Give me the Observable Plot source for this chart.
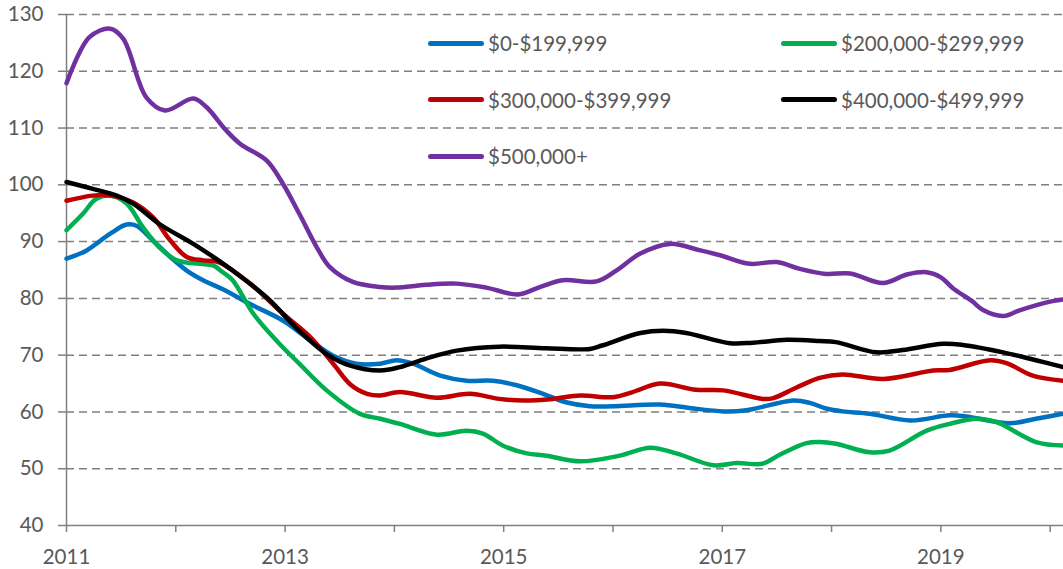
<!DOCTYPE html>
<html><head><meta charset="utf-8">
<script src="https://cdn.jsdelivr.net/npm/d3@7"></script>
<script src="https://cdn.jsdelivr.net/npm/@observablehq/plot@0.6"></script>
<style>
html,body{margin:0;padding:0;background:#fff;}
#wrap{position:relative;width:1063px;height:569px;overflow:hidden;font-family:Lato,sans-serif;}
#legend{position:absolute;left:428px;top:15px;display:grid;grid-template-columns:353px auto;grid-auto-rows:56.5px;}
.item{display:flex;align-items:center;font-size:20.5px;color:#595959;white-space:nowrap;}
.sw{width:56px;height:5px;border-radius:3px;margin-right:4px;}
</style></head><body><div id="wrap"><div id="legend"></div></div>
<script>
const seriesNames = ["$0-$199,999","$200,000-$299,999","$300,000-$399,999","$400,000-$499,999","$500,000+"];
const colors = ["#0070C0","#00B050","#C00000","#000000","#7030A0"];
const yTicks = [40,50,60,70,80,90,100,110,120,130];
const xTicks = [2011,2012,2013,2014,2015,2016,2017,2018,2019,2020];
const xLabels = [2011,2013,2015,2017,2019];

const blue = [[2011.00,87.0],[2011.18,88.4],[2011.40,91.4],[2011.55,93.0],[2011.64,92.8],[2011.79,90.2],[2011.95,87.3],[2012.10,84.9],[2012.25,83.2],[2012.43,81.6],[2012.68,79.0],[2012.98,76.1],[2013.23,72.6],[2013.44,69.9],[2013.65,68.5],[2013.87,68.5],[2014.02,69.1],[2014.17,68.5],[2014.42,66.4],[2014.66,65.5],[2014.90,65.5],[2015.12,64.7],[2015.36,63.2],[2015.57,61.7],[2015.79,61.0],[2016.00,61.0],[2016.43,61.3],[2016.70,60.7],[2017.01,60.1],[2017.22,60.3],[2017.65,62.0],[2017.80,61.6],[2017.95,60.6],[2018.10,60.1],[2018.35,59.7],[2018.72,58.5],[2019.08,59.4],[2019.23,59.2],[2019.63,58.0],[2019.87,58.8],[2020.12,59.7]];
const green = [[2011.00,92.0],[2011.15,94.9],[2011.27,97.5],[2011.40,98.1],[2011.55,96.7],[2011.70,92.5],[2011.85,89.0],[2012.01,86.7],[2012.22,86.1],[2012.34,85.8],[2012.43,84.6],[2012.52,83.2],[2012.71,77.3],[2012.92,72.6],[2013.13,68.5],[2013.38,63.8],[2013.68,59.7],[2013.87,58.8],[2014.05,57.9],[2014.39,56.0],[2014.66,56.7],[2014.81,56.2],[2014.99,54.1],[2015.21,52.7],[2015.39,52.3],[2015.70,51.3],[2016.06,52.3],[2016.34,53.7],[2016.58,52.7],[2016.92,50.6],[2017.13,51.0],[2017.37,50.9],[2017.53,52.5],[2017.77,54.5],[2017.89,54.7],[2018.04,54.4],[2018.35,52.9],[2018.53,53.2],[2018.87,56.7],[2019.08,57.9],[2019.33,58.8],[2019.51,58.2],[2019.87,54.7],[2020.12,54.1]];
const red = [[2011.00,97.2],[2011.24,98.1],[2011.40,98.1],[2011.61,96.9],[2011.79,94.3],[2011.95,90.2],[2012.10,87.3],[2012.25,86.7],[2012.39,86.4],[2012.68,82.6],[2012.98,77.3],[2013.23,73.2],[2013.44,68.5],[2013.60,64.8],[2013.75,63.2],[2013.87,62.9],[2014.05,63.5],[2014.39,62.5],[2014.69,63.2],[2014.96,62.3],[2015.18,62.0],[2015.45,62.3],[2015.70,62.9],[2016.00,62.6],[2016.18,63.5],[2016.43,65.0],[2016.76,63.9],[2017.01,63.8],[2017.37,62.3],[2017.46,62.4],[2017.68,64.3],[2017.89,66.0],[2018.10,66.6],[2018.47,65.8],[2018.93,67.3],[2019.08,67.4],[2019.45,69.1],[2019.60,68.6],[2019.84,66.4],[2020.12,65.5]];
const black = [[2011.00,100.5],[2011.24,99.3],[2011.46,98.1],[2011.61,96.7],[2011.85,93.1],[2012.16,89.6],[2012.39,86.7],[2012.52,84.9],[2012.83,80.2],[2013.13,74.3],[2013.38,70.2],[2013.59,68.2],[2013.87,67.3],[2014.05,67.9],[2014.29,69.4],[2014.57,70.8],[2014.96,71.5],[2015.39,71.2],[2015.79,71.1],[2015.90,71.7],[2016.25,73.9],[2016.46,74.3],[2016.67,73.9],[2017.07,72.1],[2017.28,72.2],[2017.59,72.7],[2017.89,72.5],[2018.04,72.3],[2018.41,70.5],[2018.65,70.9],[2019.02,72.0],[2019.20,71.8],[2019.57,70.5],[2019.87,69.1],[2020.12,67.9]];
const purple = [[2011.00,117.9],[2011.21,126.0],[2011.40,127.5],[2011.52,125.7],[2011.73,115.4],[2011.90,113.1],[2012.16,115.2],[2012.28,113.7],[2012.46,109.6],[2012.59,107.2],[2012.83,104.3],[2012.98,100.2],[2013.13,94.9],[2013.29,89.0],[2013.41,85.5],[2013.62,82.9],[2013.87,82.0],[2014.02,81.9],[2014.29,82.4],[2014.57,82.6],[2014.84,81.9],[2015.13,80.7],[2015.33,82.0],[2015.54,83.2],[2015.85,83.0],[2016.03,84.9],[2016.25,87.9],[2016.52,89.6],[2016.79,88.5],[2016.98,87.6],[2017.25,86.1],[2017.50,86.4],[2017.71,85.2],[2017.95,84.3],[2018.17,84.4],[2018.47,82.7],[2018.69,84.2],[2018.87,84.6],[2019.00,83.7],[2019.11,81.8],[2019.28,79.6],[2019.39,77.9],[2019.57,76.9],[2019.72,77.9],[2019.97,79.3],[2020.12,79.8]];

const seriesData = [blue, green, red, black, purple];
const rows = seriesNames.flatMap((name, i) => seriesData[i].map(([t, v]) => ({name, t, v})));

const axisGray = "#7f7f7f";
const chart = Plot.plot({
  width: 1063, height: 569,
  marginLeft: 66, marginRight: 0, marginTop: 14, marginBottom: 44,
  style: {fontFamily: "Lato, sans-serif", fontSize: "20.5px", color: "#595959", background: "#fff", overflow: "visible"},
  x: {domain: [2011, 2020.122]},
  y: {domain: [40, 130]},
  color: {domain: seriesNames, range: colors},
  marks: [
    Plot.ruleY(yTicks.filter(d => d > 40), {stroke: axisGray, strokeWidth: 1.5, strokeDasharray: "8,5"}),
    Plot.axisY({ticks: yTicks, tickSize: 8, tickPadding: 15, stroke: axisGray, strokeWidth: 1.5, fill: "#595959", label: null, tickFormat: d => String(d)}),
    Plot.axisX({ticks: xTicks, tickSize: 7, tickPadding: 17, stroke: axisGray, strokeWidth: 1.5, fill: "#595959", label: null, tickFormat: d => xLabels.includes(d) ? String(d) : ""}),
    Plot.ruleX([2011], {stroke: axisGray, strokeWidth: 1.5}),
    Plot.ruleY([40], {stroke: axisGray, strokeWidth: 1.5}),
    Plot.line(rows, {x: "t", y: "v", z: "name", stroke: "name", strokeWidth: 4.5, curve: "catmull-rom", strokeLinejoin: "round", strokeLinecap: "round"})
  ]
});
const wrap = document.getElementById("wrap");
wrap.insertBefore(chart, wrap.firstChild);

const legend = document.getElementById("legend");
seriesNames.forEach((name, i) => {
  const item = document.createElement("div");
  item.className = "item";
  const sw = document.createElement("span");
  sw.className = "sw";
  sw.style.background = colors[i];
  const tx = document.createElement("span");
  tx.textContent = name;
  item.appendChild(sw); item.appendChild(tx);
  legend.appendChild(item);
});
</script>
</body></html>
